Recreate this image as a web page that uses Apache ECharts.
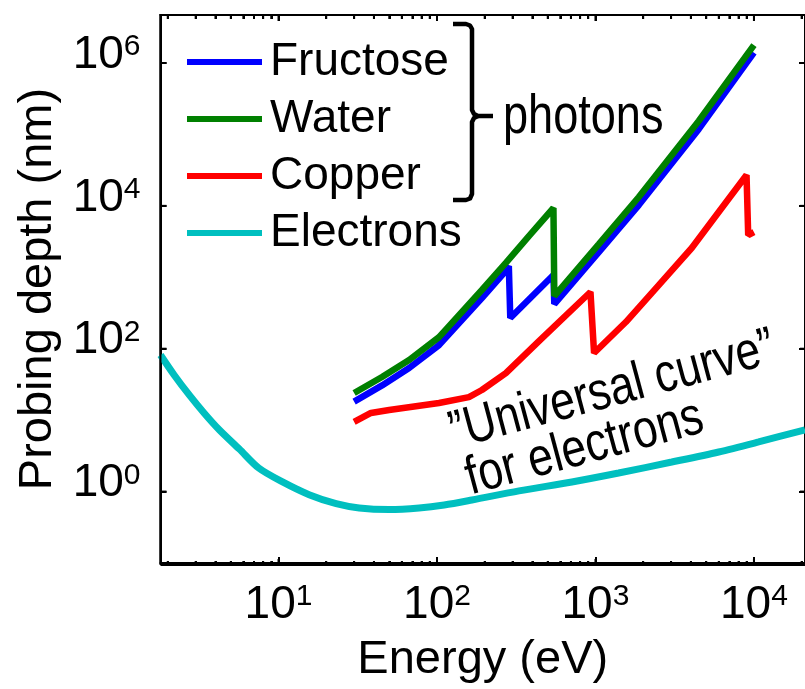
<!DOCTYPE html>
<html><head><meta charset="utf-8">
<script src="https://cdn.jsdelivr.net/npm/echarts@6/dist/echarts.min.js"></script>
<style>html,body{margin:0;padding:0;background:#fff;overflow:hidden}#c{width:805px;height:689px}</style>
</head><body><div id="c"></div>
<script>
const FONT = "'Liberation Sans', Arial, sans-serif";

// ---- data ----
const seriesNames = ['Fructose', 'Water', 'Copper', 'Electrons'];
const seriesColors = ['#0000ff', '#008000', '#ff0000', '#00bfbf'];

const fructoseEnergy = [30, 45, 66.7, 103, 192, 272, 284, 290, 543, 550, 1050, 1877, 4483, 10000];
const fructoseDepth  = [19, 32, 56, 117, 530, 1270, 1480, 279, 1109, 437, 2320, 10500, 120000, 1.4e6];

const waterEnergy = [30, 45, 66.7, 103, 192, 272, 380, 543, 550, 1050, 1877, 4483, 10000];
const waterDepth  = [25.1, 41.9, 72.3, 151, 685, 1636, 3880, 9550, 565, 3000, 13600, 156000, 1.79e6];

const copperEnergy = [30, 38.3, 49.9, 103, 159, 192, 272, 440, 930, 980, 1555, 2509, 4050, 5995, 8980, 9200, 10000];
const copperDepth  = [9.9, 13.2, 14.5, 18.2, 22.0, 27.6, 47.6, 133, 643, 90.6, 245, 804, 2642, 8390, 27500, 4000, 4400];

const electronEnergy = [1.8, 2.2, 2.74, 3.41, 4.24, 5.66, 7.5, 10.6, 15.6, 23.1, 32.3, 49.9, 77.1, 111, 166, 329, 710, 1400, 3030, 5990, 10700, 21000];
const electronDepth  = [85, 44.4, 23.4, 13.0, 7.64, 4.14, 2.25, 1.44, 0.956, 0.716, 0.624, 0.594, 0.624, 0.687, 0.806, 1.08, 1.44, 1.92, 2.73, 3.77, 5.2, 7.7];

// ---- axes / ticks ----
const xRange = [1.8, 2.1e4];
const yRange = [0.1, 4.7e6];
const xMajorExps = [1, 2, 3, 4];
const yMajorExps = [0, 2, 4, 6];
const minorMultipliers = [2, 3, 4, 5, 6, 7, 8, 9];
const minorDecades = [0, 1, 2, 3, 4];

const annotationPhotons = 'photons';
const annotationLine1 = '\u201DUniversal curve\u201D';
const annotationLine2 = 'for electrons';

// ---- build ----
const xMinorLog = [];
minorDecades.forEach(d => minorMultipliers.forEach(m => {
  const v = Math.log10(m) + d;
  if (v > Math.log10(xRange[0]) && v < Math.log10(xRange[1])) xMinorLog.push(v);
}));
const zip = (a, b) => a.map((v, i) => [v, b[i]]);
const G = { left: 160.5, top: 15, width: 645.5, height: 550 };
const lx = Math.log10(xRange[0]), hx = Math.log10(xRange[1]);
const ySpan = Math.log10(yRange[1]) - Math.log10(yRange[0]);
const Y_SHIFT = -Math.log10(yRange[0]);
const yMajorShifted = yMajorExps.map(e => e + Y_SHIFT);
const black = '#000';
const supRich = {
  b: { fontSize: 46, lineHeight: 46, fontFamily: FONT, color: black },
  s: { fontSize: 30, lineHeight: 17, verticalAlign: 'top', fontFamily: FONT, color: black }
};
const fmtX = v => '{b|10}{s|' + Math.round(v) + '}';
const fmtY = v => '{b|10}{s|' + Math.round(v - Y_SHIFT) + '}';
const nameStyle = { fontSize: 47, lineHeight: 47, fontFamily: FONT, color: black };
const lineAx = () => ({ show: true, lineStyle: { color: black, width: 2 } });
const majorTick = vals => ({ show: true, inside: true, length: 6, customValues: vals, lineStyle: { color: black, width: 2 } });
const minorTick = vals => ({ show: true, inside: true, length: 4, customValues: vals, lineStyle: { color: black, width: 2 } });
const narrow = 0.82;
const DATA_X = 4, DATA_Y = 5;

const annotations = [
  { id: 'br1', type: 'polyline', shape: { points: [[453, 24], [466, 24], [470, 25.5], [472, 29], [472, 110], [474, 114], [478, 116], [493, 116]] },
    style: { fill: null, stroke: black, lineWidth: 4.5, lineJoin: 'round' } },
  { id: 'br2', type: 'polyline', shape: { points: [[478, 116], [474, 118], [472, 122], [472, 194], [470, 198.5], [466, 200], [453, 200]] },
    style: { fill: null, stroke: black, lineWidth: 4.5, lineJoin: 'round' } },
  { id: 't1', type: 'text', x: 503, y: 118, scaleX: narrow, style: { text: annotationPhotons, font: '55px ' + FONT, fill: black, align: 'left', verticalAlign: 'middle' } },
  { id: 't2', type: 'text', x: 451, y: 434, rotation: Math.PI / 12, scaleX: narrow, style: { text: annotationLine1, font: '54px ' + FONT, fill: black, align: 'left', verticalAlign: 'middle' } },
  { id: 't3', type: 'text', x: 467, y: 480, rotation: Math.PI / 12, scaleX: narrow, style: { text: annotationLine2, font: '54px ' + FONT, fill: black, align: 'left', verticalAlign: 'middle' } }
];

const chart = echarts.init(document.getElementById('c'), null, { renderer: 'canvas' });
chart.setOption({
  animation: false,
  backgroundColor: '#fff',
  grid: [0, 1, 2, 3, 4].map(i => Object.assign({}, G, i === 0 ? { show: true, borderColor: black, borderWidth: 2 } : {})),
  legend: {
    show: true, orient: 'vertical', left: 187, top: 33.5, padding: 0, itemWidth: 75, itemHeight: 6, itemGap: 0,
    icon: 'rect', selectedMode: false, data: seriesNames,
    textStyle: { fontSize: 46, lineHeight: 57, fontFamily: FONT, color: black, padding: [0, 0, 0, 3] }
  },
  xAxis: [
    { gridIndex: 0, type: 'value', position: 'bottom', min: lx, max: hx,
      axisLine: lineAx(), splitLine: { show: false }, axisTick: majorTick(xMajorExps),
      axisLabel: { show: true, customValues: xMajorExps, margin: 19, formatter: fmtX, rich: supRich },
      name: 'Energy (eV)', nameLocation: 'middle', nameGap: 74, nameTextStyle: nameStyle },
    { gridIndex: 1, type: 'value', position: 'bottom', min: lx, max: hx,
      axisLine: { show: false }, splitLine: { show: false }, axisLabel: { show: false }, axisTick: minorTick(xMinorLog) },
    { gridIndex: 2, type: 'value', position: 'top', min: lx, max: hx,
      axisLine: lineAx(), splitLine: { show: false }, axisLabel: { show: false }, axisTick: majorTick(xMajorExps) },
    { gridIndex: 3, type: 'value', position: 'top', min: lx, max: hx,
      axisLine: { show: false }, splitLine: { show: false }, axisLabel: { show: false }, axisTick: minorTick(xMinorLog) },
    { gridIndex: 4, type: 'log', logBase: 10, min: xRange[0], max: xRange[1], show: false }
  ],
  yAxis: [
    { gridIndex: 0, type: 'value', position: 'left', min: 0, max: ySpan,
      axisLine: lineAx(), splitLine: { show: false }, axisTick: majorTick(yMajorShifted),
      axisLabel: { show: true, customValues: yMajorShifted, margin: 20, padding: [0, 0, 16, 0], formatter: fmtY, rich: supRich },
      name: 'Probing depth (nm)', nameLocation: 'middle', nameGap: 95, nameTextStyle: nameStyle },
    { gridIndex: 0, type: 'value', position: 'right', min: 0, max: ySpan,
      axisLine: lineAx(), splitLine: { show: false }, axisLabel: { show: false }, axisTick: majorTick(yMajorShifted) },
    { gridIndex: 1, type: 'value', min: 0, max: ySpan, show: false },
    { gridIndex: 2, type: 'value', min: -ySpan, max: 0, show: false },
    { gridIndex: 3, type: 'value', min: -ySpan, max: 0, show: false },
    { gridIndex: 4, type: 'log', logBase: 10, min: yRange[0], max: yRange[1], show: false }
  ],
  series: [
    { name: seriesNames[0], type: 'line', xAxisIndex: DATA_X, yAxisIndex: DATA_Y, data: zip(fructoseEnergy, fructoseDepth),
      showSymbol: false, color: seriesColors[0], lineStyle: { width: 6.5, color: seriesColors[0] }, z: 2 },
    { name: seriesNames[1], type: 'line', xAxisIndex: DATA_X, yAxisIndex: DATA_Y, data: zip(waterEnergy, waterDepth),
      showSymbol: false, color: seriesColors[1], lineStyle: { width: 6.5, color: seriesColors[1] }, z: 3 },
    { name: seriesNames[2], type: 'line', xAxisIndex: DATA_X, yAxisIndex: DATA_Y, data: zip(copperEnergy, copperDepth),
      showSymbol: false, color: seriesColors[2], lineStyle: { width: 6.5, color: seriesColors[2] }, z: 2 },
    { name: seriesNames[3], type: 'line', xAxisIndex: DATA_X, yAxisIndex: DATA_Y, data: zip(electronEnergy, electronDepth),
      showSymbol: false, smooth: 0.3, color: seriesColors[3], lineStyle: { width: 7, color: seriesColors[3] }, z: 2 }
  ],
  graphic: annotations
});

// Frame and ticks as polylines, positioned through the chart's own axis scales.
const frame = [];
const bottom = G.top + G.height, right = G.left + G.width;
const seg = (id, pts, w) => {
  if (pts.every(p => isFinite(p[0]) && isFinite(p[1]))) {
    frame.push({ id, type: 'polyline', z: 10, silent: true, shape: { points: pts },
      style: { fill: null, stroke: black, lineWidth: w, lineJoin: 'miter' } });
  }
};
seg('frameTop', [[G.left, bottom], [G.left, G.top], [right + 2, G.top]], 2);
seg('frameBottom', [[G.left, bottom], [right + 2, bottom]], 2);
const toPx = (axisIndex, v) => {
  let p = NaN;
  try { p = chart.convertToPixel({ xAxisIndex: axisIndex }, v); } catch (e) {}
  return Array.isArray(p) ? p[0] : p;
};
const toPy = (axisIndex, v) => {
  let p = NaN;
  try { p = chart.convertToPixel({ yAxisIndex: axisIndex }, v); } catch (e) {}
  return Array.isArray(p) ? p[1] : p;
};
xMajorExps.forEach((e, i) => {
  const px = toPx(0, e);
  seg('xb' + i, [[px, bottom], [px, bottom - 6]], 2);
  seg('xt' + i, [[px, G.top], [px, G.top + 6]], 2);
});
xMinorLog.forEach((v, i) => {
  const px = toPx(0, v);
  seg('mb' + i, [[px, bottom], [px, bottom - 4]], 2);
  seg('mt' + i, [[px, G.top], [px, G.top + 4]], 2);
});
yMajorShifted.forEach((v, i) => {
  const py = toPy(0, v);
  seg('yl' + i, [[G.left, py], [G.left + 6, py]], 2);
  seg('yr' + i, [[right - 6, py], [right, py]], 2);
});
chart.setOption({ graphic: annotations.concat(frame) });
</script>
</body></html>
